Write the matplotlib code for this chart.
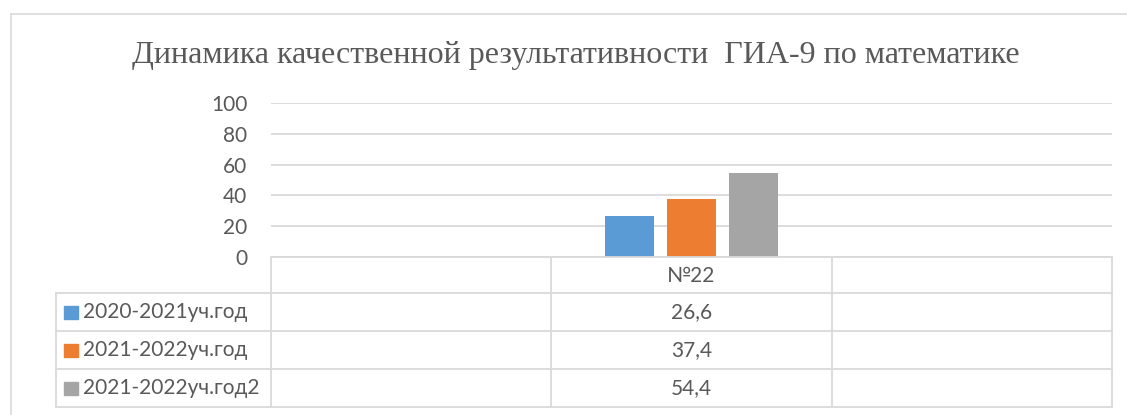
import numpy as np
import matplotlib
matplotlib.use("Agg")
import matplotlib.pyplot as plt
from matplotlib.lines import Line2D
from matplotlib.patches import Rectangle

# ---- data ----
title = "Динамика качественной результативности  ГИА-9 по математике"
categories = ["", "№22", ""]
series_names = ["2020-2021уч.год", "2021-2022уч.год", "2021-2022уч.год2"]
s2021 = [np.nan, 26.6, np.nan]
s2022 = [np.nan, 37.4, np.nan]
s2022b = [np.nan, 54.4, np.nan]
series_values = [s2021, s2022, s2022b]
colors = ["#5B9BD5", "#ED7D31", "#A5A5A5"]
yticks = [0, 20, 40, 60, 80, 100]

W, H = 1127, 415
fig = plt.figure(figsize=(W / 100, H / 100), dpi=100)
fig.patch.set_facecolor("white")

TXT = "#595959"
GRID = "#D9D9D9"
sans = ["Lato", "DejaVu Sans"]
serif = ["Liberation Serif", "DejaVu Serif"]
FS = 15

def fx(px):
    return px / W

def fy(py):
    return 1 - py / H

# chart frame (left & top visible)
fig.add_artist(Line2D([fx(11), fx(11)], [fy(14), 0], color=GRID, lw=1.2, transform=fig.transFigure))
fig.add_artist(Line2D([fx(11), 1], [fy(14), fy(14)], color=GRID, lw=1.2, transform=fig.transFigure))

# plot area
L, R, T, B = 271, 1112, 103, 257
ax = fig.add_axes([fx(L), fy(B), fx(R - L), (B - T) / H])
ax.set_xlim(-0.5, len(categories) - 0.5)
ax.set_ylim(0, 100)
x = np.arange(len(categories))
bw = 0.175
step = 0.2214
for i, (vals, c) in enumerate(zip(series_values, colors)):
    ax.bar(x + (i - 1) * step, vals, width=bw, color=c, zorder=3)
ax.set_yticks(yticks)
ax.set_yticklabels([str(v) for v in yticks], fontsize=FS, color=TXT, family=sans)
ax.tick_params(axis="y", length=0, pad=17)
ax.set_xticks([])
ax.grid(axis="y", color=GRID, lw=1.3, zorder=0)
for s in ax.spines.values():
    s.set_visible(False)

fig.text(0.511, fy(63), title, ha="center", va="baseline", fontsize=23, color=TXT, family=serif)

# data table overlay in pixel coordinates
tax = fig.add_axes([0, 0, 1, 1])
tax.set_xlim(0, W)
tax.set_ylim(H, 0)
tax.axis("off")
tax.patch.set_alpha(0)

n = len(categories)
col_edges = [L + (R - L) * k / n for k in range(n + 1)]
col_centers = [L + (R - L) * (k + 0.5) / n for k in range(n)]
label_left = 56
rows_y = [257, 293, 331, 369, 407]

tax.plot([L, R], [rows_y[0], rows_y[0]], color=GRID, lw=1.3)
for yy in rows_y[1:]:
    tax.plot([label_left, R], [yy, yy], color=GRID, lw=1.3)
for xe in col_edges:
    tax.plot([xe, xe], [rows_y[0], rows_y[-1]], color=GRID, lw=1.3)
tax.plot([label_left, label_left], [rows_y[1], rows_y[-1]], color=GRID, lw=1.3)

for cx, cat in zip(col_centers, categories):
    if cat:
        tax.text(cx, (rows_y[0] + rows_y[1]) / 2 + 1, cat, ha="center", va="center",
                 fontsize=FS, color=TXT, family=sans)

def fmt(v):
    return ("%g" % v).replace(".", ",")

for r, (name, vals, c) in enumerate(zip(series_names, series_values, colors)):
    yc = (rows_y[r + 1] + rows_y[r + 2]) / 2
    tax.add_patch(Rectangle((64, yc - 6.5), 14, 13, color=c))
    tax.text(83, yc, name, ha="left", va="center", fontsize=FS, color=TXT, family=sans)
    for cx, v in zip(col_centers, vals):
        if not np.isnan(v):
            tax.text(cx, yc, fmt(v), ha="center", va="center", fontsize=FS, color=TXT, family=sans)

fig.savefig("out.png", dpi=100, facecolor="white")
